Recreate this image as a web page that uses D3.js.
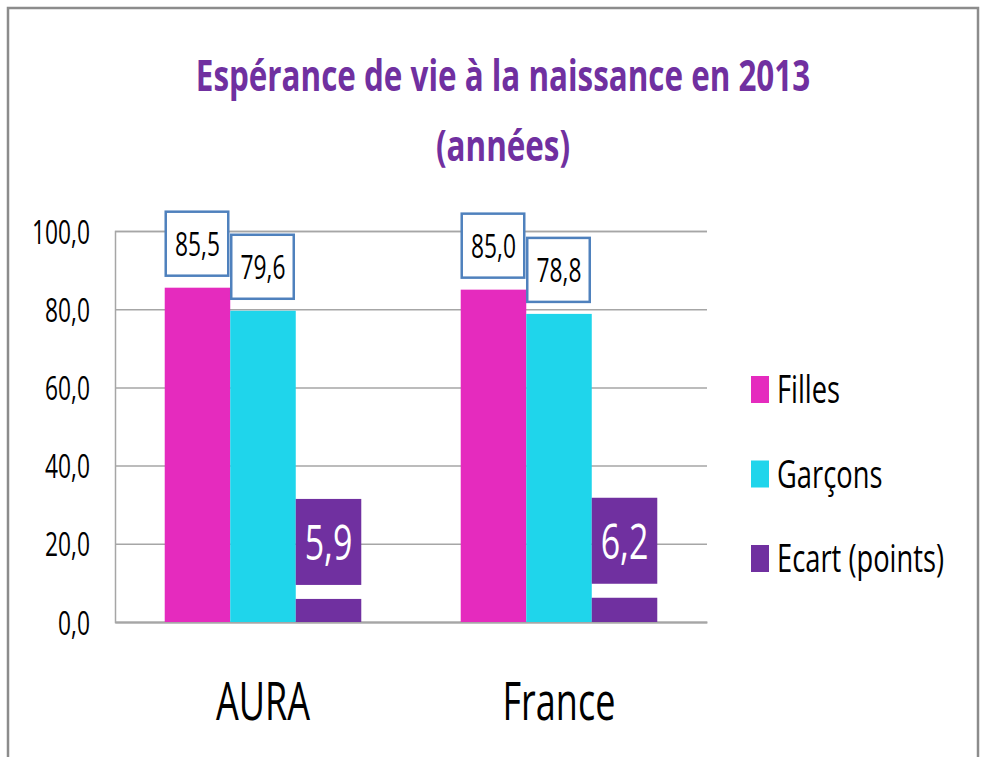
<!DOCTYPE html>
<html>
<head>
<meta charset="utf-8">
<script src="https://cdn.jsdelivr.net/npm/d3@7"></script>
<style>
    body { margin: 0; background: #fff; }
    svg text { font-family: "Open Sans", sans-serif; }
</style>
</head>
<body>
<div id="chart"></div>
<script>
// chart data
const categories = ["AURA", "France"];
const series_names = ["Filles", "Garçons", "Ecart (points)"];
const filles = [85.5, 85.0];
const garcons = [79.6, 78.8];
const ecart = [5.9, 6.2];
const y_ticks = [0, 20, 40, 60, 80, 100];

const colors = ["#E52BBE", "#1FD5EB", "#7030A0"];
const title_color = "#7030A0";
const grid_color = "#A6A6A6";
const label_border = "#4F81BD";

// the reference text is narrow, squeeze every text horizontally
const SX = 0.68;
const SX_TITLE = 0.73;

const width = 984;
const height = 757;
const margin_top = 231;
const margin_left = 115;
const plot_right = 707;
const plot_bottom = 622;

const fmt = v => d3.format(".1f")(v).replace(".", ",");

const svg = d3.select("#chart").append("svg")
    .attr("width", width)
    .attr("height", height);

// outer frame
svg.append("rect")
    .attr("x", 8).attr("y", 8)
    .attr("width", 970).attr("height", 760)
    .attr("fill", "#fff")
    .attr("stroke", "#8C8C8C")
    .attr("stroke-width", 2.5);

// title
const title_lines = ["Espérance de vie à la naissance en 2013", "(années)"];
svg.selectAll(".title")
    .data(title_lines)
    .join("text")
    .attr("class", "title")
    .attr("transform", (d, i) => `translate(503,${91 + i * 70}) scale(${SX_TITLE},1)`)
    .attr("text-anchor", "middle")
    .attr("font-size", 43)
    .attr("font-weight", "bold")
    .attr("fill", title_color)
    .text(d => d);

// scales
const x = d3.scaleBand()
    .domain(categories)
    .range([margin_left, plot_right])
    .padding(0);

const group_width = x.bandwidth() * 0.664;
const x_inner = d3.scaleBand()
    .domain(d3.range(series_names.length))
    .range([0, group_width]);

const y = d3.scaleLinear()
    .domain([0, 100])
    .range([plot_bottom, margin_top]);

// y axis with grid lines
const y_axis = svg.append("g")
    .attr("transform", `translate(${margin_left},0)`)
    .call(d3.axisLeft(y)
        .tickValues(y_ticks)
        .tickSize(-(plot_right - margin_left))
        .tickFormat(fmt));
y_axis.select(".domain").attr("stroke", grid_color).attr("stroke-width", 1.5);
y_axis.selectAll(".tick line").attr("stroke", grid_color).attr("stroke-width", 1.5);
y_axis.selectAll(".tick text")
    .attr("x", 0)
    .attr("dy", "0.36em")
    .attr("transform", `translate(-25,0) scale(${SX},1)`)
    .attr("font-size", 33.5)
    .attr("font-family", "Open Sans")
    .attr("fill", "#000");

// x axis
const x_axis = svg.append("g")
    .attr("transform", `translate(0,${plot_bottom})`)
    .call(d3.axisBottom(x).tickSize(0));
x_axis.select(".domain").attr("stroke", grid_color).attr("stroke-width", 2);
x_axis.selectAll(".tick text")
    .attr("y", 0)
    .attr("dy", 0)
    .attr("transform", `translate(0,98) scale(${SX},1)`)
    .attr("font-size", 53)
    .attr("font-family", "Open Sans")
    .attr("fill", "#000");

// bars
const rows = categories.map((c, i) => ({
    category: c,
    values: [filles[i], garcons[i], ecart[i]]
}));

const group = svg.selectAll(".group")
    .data(rows)
    .join("g")
    .attr("class", "group")
    .attr("transform", d => `translate(${x(d.category) + (x.bandwidth() - group_width) / 2},0)`);

group.selectAll("rect.bar")
    .data(d => d.values.map((v, j) => ({v: v, j: j})))
    .join("rect")
    .attr("class", "bar")
    .attr("x", d => x_inner(d.j))
    .attr("width", x_inner.bandwidth())
    .attr("y", d => y(d.v))
    .attr("height", d => y(0) - y(d.v))
    .attr("fill", d => colors[d.j]);

// boxed labels for Filles and Garçons
const box_h = 64;
const box_gap = 12;
const plain = group.selectAll("g.label")
    .data(d => d.values.slice(0, 2).map((v, j) => ({v: v, j: j})))
    .join("g")
    .attr("class", "label");

plain.append("rect")
    .attr("x", d => x_inner(d.j) + 1)
    .attr("y", d => y(d.v) - box_gap - box_h)
    .attr("width", x_inner.bandwidth() - 3)
    .attr("height", box_h)
    .attr("fill", "#fff")
    .attr("stroke", label_border)
    .attr("stroke-width", 2.5);

plain.append("text")
    .attr("transform", d => `translate(${x_inner(d.j) + x_inner.bandwidth() / 2},${y(d.v) - box_gap - box_h / 2 + 12}) scale(${SX},1)`)
    .attr("text-anchor", "middle")
    .attr("font-size", 33.5)
    .attr("fill", "#000")
    .text(d => fmt(d.v));

// purple label for the gap
const ecart_h = 86;
const ecart_gap = 14;
const gap_label = group.selectAll("g.gap")
    .data(d => [{v: d.values[2], j: 2}])
    .join("g")
    .attr("class", "gap");

gap_label.append("rect")
    .attr("x", d => x_inner(d.j))
    .attr("y", d => y(d.v) - ecart_gap - ecart_h)
    .attr("width", x_inner.bandwidth())
    .attr("height", ecart_h)
    .attr("fill", colors[2]);

gap_label.append("text")
    .attr("transform", d => `translate(${x_inner(d.j) + x_inner.bandwidth() / 2},${y(d.v) - ecart_gap - ecart_h / 2 + 18}) scale(${SX},1)`)
    .attr("text-anchor", "middle")
    .attr("font-size", 50)
    .attr("fill", "#fff")
    .text(d => fmt(d.v));

// legend
const legend = svg.selectAll(".legend")
    .data(series_names)
    .join("g")
    .attr("class", "legend")
    .attr("transform", (d, i) => `translate(751,${376 + i * 84.5})`);

legend.append("rect")
    .attr("width", 18)
    .attr("height", 27)
    .attr("fill", (d, i) => colors[i]);

legend.append("text")
    .attr("transform", `translate(26,27) scale(0.7,1)`)
    .attr("font-size", 39)
    .attr("fill", "#000")
    .text(d => d);
</script>
</body>
</html>
